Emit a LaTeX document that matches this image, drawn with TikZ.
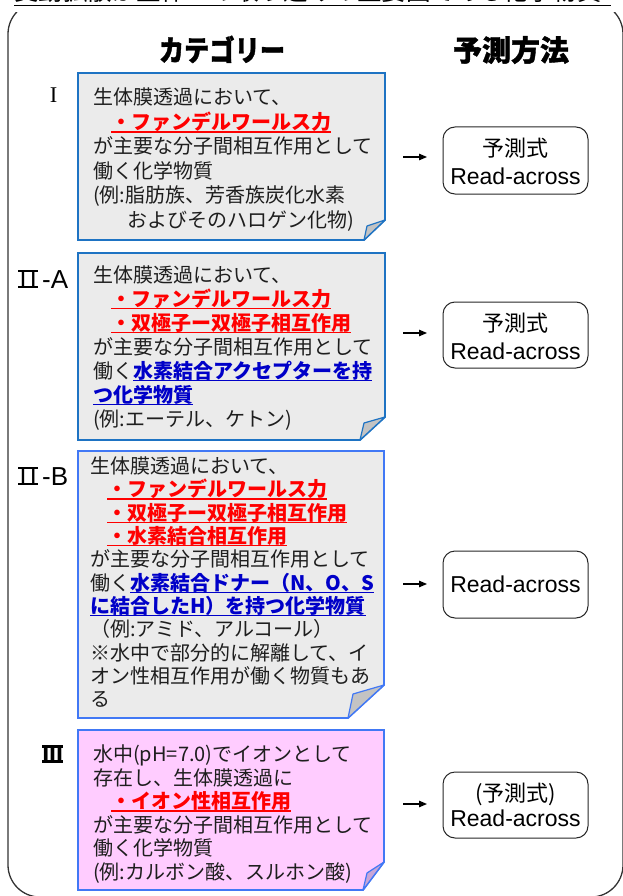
\documentclass[tikz,border=0pt]{standalone}
\usepackage{fontspec}
\usepackage{graphicx}
\usetikzlibrary{arrows.meta}
\newfontfamily\jp{Noto Sans CJK JP}
\newfontfamily\jphdr[FakeBold=1.3]{Noto Sans CJK JP}
\newfontfamily\lat{Liberation Sans}
\newfontfamily\latserif{Liberation Serif}
\definecolor{bordA}{RGB}{30,115,195}
\definecolor{bordB}{RGB}{65,120,245}
\definecolor{notegray}{RGB}{235,235,235}
\definecolor{foldgray}{RGB}{195,195,195}
\definecolor{notepink}{RGB}{255,204,255}
\definecolor{foldpink}{RGB}{200,165,215}
\definecolor{txtred}{RGB}{255,0,0}
\definecolor{txtblue}{RGB}{0,0,200}
\definecolor{txtdark}{RGB}{30,30,30}
\newsavebox\ulbox
\newcommand\ulmark[1]{\sbox\ulbox{#1}\rlap{\rule[-3.4pt]{\wd\ulbox}{1.6pt}}\usebox\ulbox}
\newcommand\redul[1]{\textcolor{txtred}{\bfseries\ulmark{#1}}}
\newcommand\blueul[1]{\textcolor{txtblue}{\bfseries\ulmark{#1}}}
\newcommand\txtline[4]{\node[tline] (#1) at (#2,#3) {#4};}
% roman numeral with bars on top and bottom: width, cap height, bar thickness, content
\newcommand\romnum[4]{\makebox[#1][l]{\rlap{\rule{#1}{#3}}\rlap{\raisebox{\dimexpr#2-#3\relax}{\rule{#1}{#3}}}\makebox[#1][c]{#4}}}
\tikzset{
  tline/.style={anchor=base west, inner sep=0, text=txtdark, font=\jp\fontsize{20}{24}\selectfont},
  hdr/.style={anchor=base, inner sep=0, font=\jphdr\bfseries\fontsize{29}{32}\selectfont},
  notebody/.style={line width=1.8, line join=miter},
  notefold/.style={line width=1.2, line join=round},
  predbox/.style={draw=black!85, line width=1, rounded corners=12, minimum width=145, inner sep=0},
  predjp/.style={anchor=base, inner sep=0, font=\jp\fontsize{22}{24}\selectfont},
  predlat/.style={anchor=base, inner sep=0, font=\lat\fontsize{23}{25}\selectfont},
  arr/.style={line width=1.2, -{Triangle[length=8pt,width=6.5pt]}},
  romlab/.style={inner sep=0, text=black, anchor=base west}
}
\begin{document}
\begin{tikzpicture}[x=1pt,y=-1pt]
\useasboundingbox (0,0) rectangle (622,896);
% outer frame
\draw[draw=black!80, line width=1.3, rounded corners=32] (8,2) rectangle (623,897);
\fill[white] (-2,-6) rectangle (624,12);
% title (cut off at top, as in the reference)
\node[anchor=base west, inner sep=0, font=\jp\fontsize{24.5}{28}\selectfont] (title) at (14,1) {受動拡散が生体への取り込みの主要因である化学物質};
\draw[line width=1.8] (14,5.6) -- (611,5.6);
% headers
\node[hdr] (hcat) at (222,61) {\scalebox{0.87}[1]{カテゴリー}};
\node[hdr] (hpred) at (511,61) {予測方法};

% ---------- Box I ----------
\filldraw[notebody, draw=bordA, fill=notegray] (78,73) -- (385,73) -- (385,220) -- (364,240) -- (78,240) -- cycle;
\filldraw[notefold, draw=bordA, fill=foldgray] (364,240) -- (367,226) -- (385,220) -- cycle;
\txtline{b1l1}{93}{105}{生体膜透過において、}
\txtline{b1l2}{93}{129.5}{\hspace*{18pt}\redul{・ファンデルワールス力}}
\txtline{b1l3}{93}{154}{が主要な分子間相互作用として}
\txtline{b1l4}{93}{178.5}{働く化学物質}
\txtline{b1l5}{93}{203}{(例:脂肪族、芳香族炭化水素}
\txtline{b1l6}{93}{227.5}{\hspace*{34pt}およびそのハロゲン化物)}
\node[romlab, anchor=base, font=\latserif\fontsize{22.5}{23}\selectfont] (lab1) at (53.5,103) {I};

% ---------- Box II-A ----------
\filldraw[notebody, draw=bordA, fill=notegray] (78,253) -- (385,253) -- (385,417) -- (360,440) -- (78,440) -- cycle;
\filldraw[notefold, draw=bordA, fill=foldgray] (360,440) -- (364,423) -- (385,417) -- cycle;
\txtline{b2l1}{93}{282}{生体膜透過において、}
\txtline{b2l2}{93}{306}{\hspace*{18pt}\redul{・ファンデルワールス力}}
\txtline{b2l3}{93}{330}{\hspace*{18pt}\redul{・双極子ー双極子相互作用}}
\txtline{b2l4}{93}{354}{が主要な分子間相互作用として}
\txtline{b2l5}{93}{378}{働く\blueul{水素結合アクセプターを持}}
\txtline{b2l6}{93}{402}{\blueul{つ化学物質}}
\txtline{b2l7}{93}{426}{(例:エーテル、ケトン)}
\node[romlab, font=\lat\fontsize{25}{25}\selectfont] (lab2a) at (18,288) {\romnum{20pt}{17.9pt}{2.3pt}{I\kern3.5pt I}\kern4pt\fontsize{26}{26}\selectfont -A};

% ---------- Box II-B ----------
\filldraw[notebody, draw=bordB, fill=notegray] (78,451) -- (384,451) -- (384,685) -- (348,718) -- (78,718) -- cycle;
\filldraw[notefold, draw=bordB, fill=foldgray] (348,718) -- (353,694) -- (384,685) -- cycle;
\txtline{b3l1}{90}{473}{生体膜透過において、}
\txtline{b3l2}{90}{496.5}{\hspace*{17pt}\redul{・ファンデルワールス力}}
\txtline{b3l3}{90}{520}{\hspace*{17pt}\redul{・双極子ー双極子相互作用}}
\txtline{b3l4}{90}{543}{\hspace*{17pt}\redul{・水素結合相互作用}}
\txtline{b3l5}{90}{566.5}{が主要な分子間相互作用として}
\txtline{b3l6}{90}{590}{働く\blueul{水素結合ドナー（N、O、S}}
\txtline{b3l7}{90}{613}{\blueul{に結合したH）を持つ化学物質}}
\txtline{b3l8}{90}{636.5}{（例:アミド、アルコール）}
\txtline{b3l9}{90}{660}{※水中で部分的に解離して、イ}
\txtline{b3l10}{90}{683}{オン性相互作用が働く物質もあ}
\txtline{b3l11}{90}{706.5}{る}
\node[romlab, font=\lat\fontsize{25}{25}\selectfont] (lab2b) at (18,485) {\romnum{20pt}{17.9pt}{2.3pt}{I\kern3.5pt I}\kern4pt\fontsize{26}{26}\selectfont -B};

% ---------- Box III ----------
\filldraw[notebody, draw=bordB, fill=notepink] (78,730) -- (384,730) -- (384,862) -- (363,890) -- (78,890) -- cycle;
\filldraw[notefold, draw=bordB, fill=foldpink] (363,890) -- (367,873) -- (384,862) -- cycle;
\txtline{b4l1}{93}{761.5}{水中(pH=7.0)でイオンとして}
\txtline{b4l2}{93}{785}{存在し、生体膜透過に}
\txtline{b4l3}{93}{808.5}{\hspace*{18pt}\redul{・イオン性相互作用}}
\txtline{b4l4}{93}{832}{が主要な分子間相互作用として}
\txtline{b4l5}{93}{855.5}{働く化学物質}
\txtline{b4l6}{93}{879}{(例:カルボン酸、スルホン酸)}
\node[romlab, font=\lat\bfseries\fontsize{25}{25}\selectfont] (lab3) at (42,763) {\romnum{21pt}{17.9pt}{3pt}{III}};

% ---------- prediction boxes ----------
\node[predbox, minimum height=67] (p1) at (515.5,160.5) {};
\node[predjp] (p1a) at (515.5,156.5) {予測式};
\node[predlat] (p1b) at (515.5,184.3) {Read-across};
\node[predbox, minimum height=66] (p2) at (515.5,335) {};
\node[predjp] (p2a) at (515.5,331.5) {予測式};
\node[predlat] (p2b) at (515.5,359.5) {Read-across};
\node[predbox, minimum height=67] (p3) at (515.5,584.5) {};
\node[predlat] (p3b) at (515.5,592.3) {Read-across};
\node[predbox, minimum height=66] (p4) at (515.5,805) {};
\node[predjp] (p4a) at (515.5,801.5) {(予測式)};
\node[predlat] (p4b) at (515.5,826.7) {Read-across};

% ---------- arrows ----------
\coordinate (a1s) at (403,157); \coordinate (a1e) at (427,157);
\coordinate (a2s) at (403,333); \coordinate (a2e) at (427,333);
\coordinate (a3s) at (403,584); \coordinate (a3e) at (427,584);
\coordinate (a4s) at (403,804); \coordinate (a4e) at (427,804);
\draw[arr] (a1s) -- (a1e);
\draw[arr] (a2s) -- (a2e);
\draw[arr] (a3s) -- (a3e);
\draw[arr] (a4s) -- (a4e);
\end{tikzpicture}
\end{document}
